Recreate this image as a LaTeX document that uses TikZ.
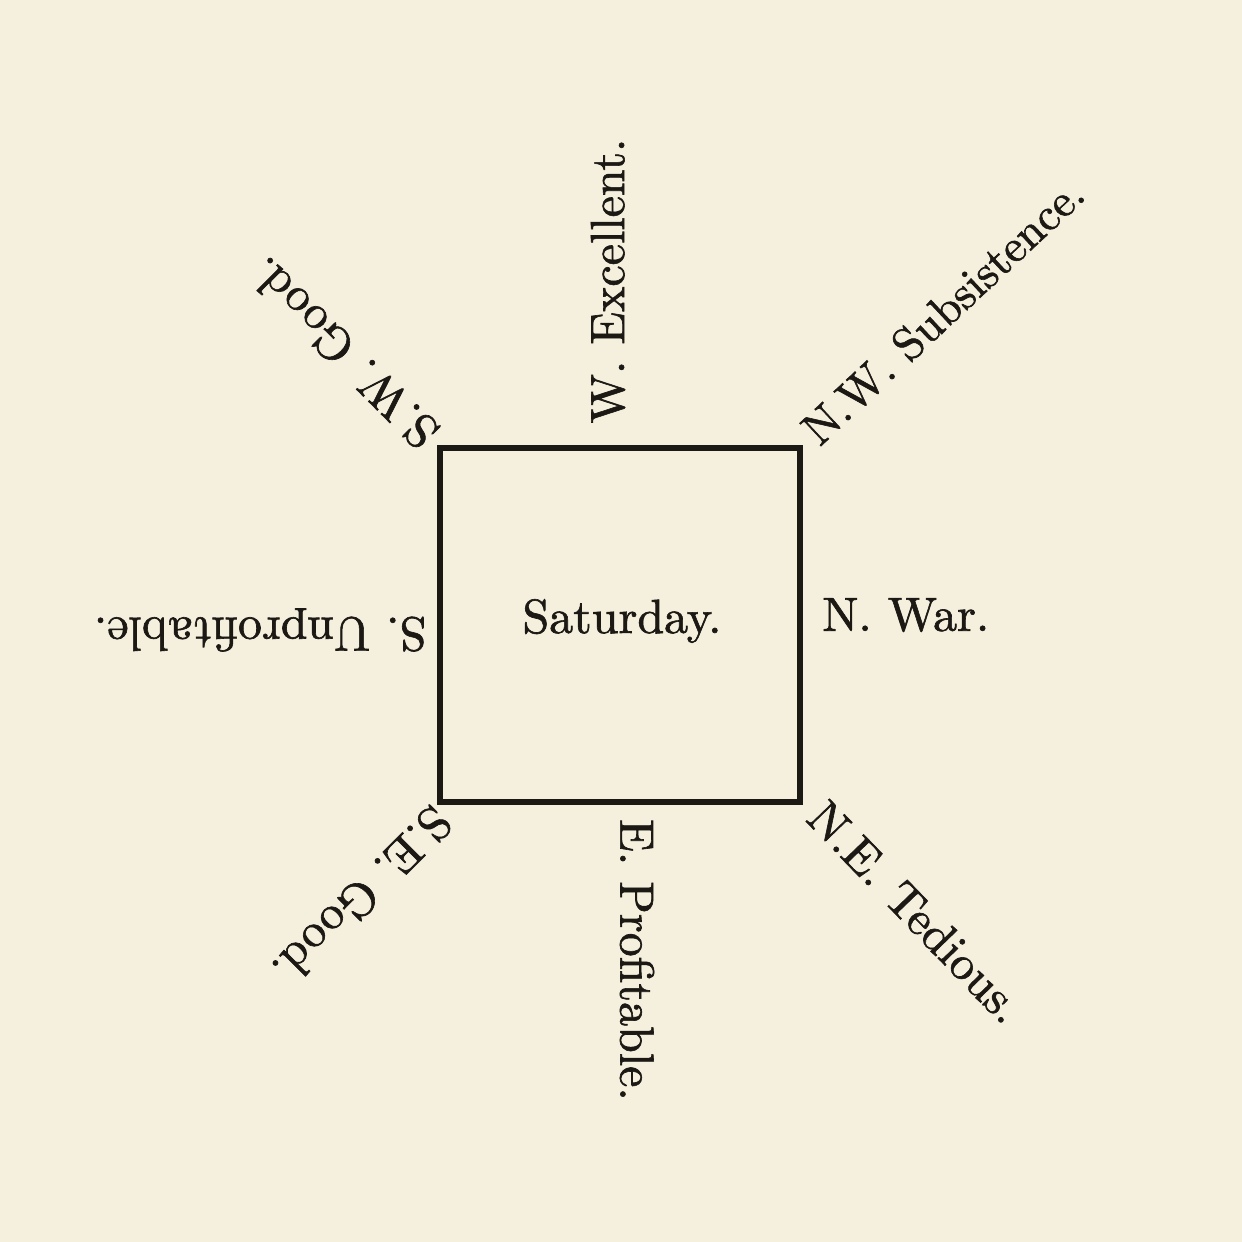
\documentclass[tikz,border=0pt]{standalone}
\usepackage{tikz}
\usetikzlibrary{positioning}
\usepackage{fontspec}
\newfontfamily\heavyserif{lmroman10-regular.otf}[FakeBold=1.3]

\definecolor{paper}{RGB}{245,240,221}
\definecolor{ink}{RGB}{28,24,20}

\begin{document}
\begin{tikzpicture}[
     x=0.5pt, y=0.5pt,
     % define styles
     point/.style={
         text=ink,
         font=\heavyserif\fontsize{24}{28}\selectfont,
         inner sep=0pt
     },
     box/.style={
         draw=ink,
         line width=3pt
     }
]
% page
\fill[paper] (0,0) rectangle (1242,1242);
\useasboundingbox (0,0) rectangle (1242,1242);

% the square
\node[box, minimum width=180pt, minimum height=177pt, inner sep=0pt] (sq) at (620,617) {};

% day in the middle
\node[point, anchor=base] (day) at (622,609) {Saturday.};

% the four sides
\node[point, anchor=west] (n) at (822,627) {N. War.};
\node[point, rotate=180] (s) at (260,612) {S. Unprofitable.};
\node[point, rotate=90] (w) at (608,961) {W. Excellent.};
\node[point, rotate=-90] (e) at (637,282) {E. Profitable.};

% the four corners
\node[point, font=\heavyserif\fontsize{23}{27}\selectfont, rotate=43] (nw) at (943,931) {N.W. Subsistence.};
\node[point, rotate=-46] (ne) at (916,330) {N.E. Tedious.};
\node[point, rotate=135] (sw) at (343,889) {S.W. Good.};
\node[point, rotate=225] (se) at (362,346) {S.E. Good.};

\end{tikzpicture}
\end{document}
